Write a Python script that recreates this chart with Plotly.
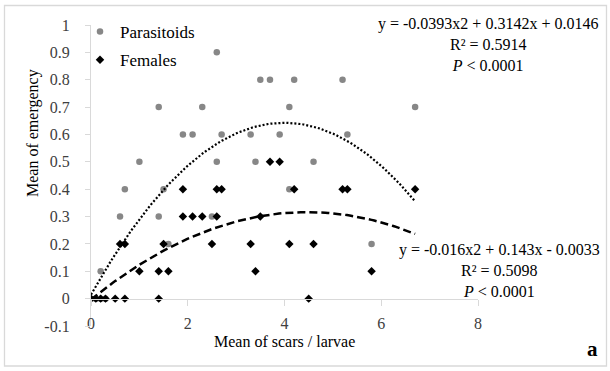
import numpy as np
import plotly.graph_objects as go

# ---- data ----
parasitoid_x = [0, 0.1, 0.2, 0.3, 0.2, 0.6, 0.7, 1.0, 1.4, 1.4, 1.5, 1.6, 1.9, 2.1, 2.3, 2.5, 2.6, 2.6,
                2.7, 3.3, 3.4, 3.5, 3.7, 3.9, 4.1, 4.1, 4.2, 4.6, 5.2, 5.3, 5.8, 6.7]
parasitoid_y = [0, 0, 0, 0, 0.1, 0.3, 0.4, 0.5, 0.7, 0.3, 0.4, 0.2, 0.6, 0.6, 0.7, 0.3, 0.9, 0.5,
                0.6, 0.6, 0.5, 0.8, 0.8, 0.6, 0.7, 0.4, 0.8, 0.5, 0.8, 0.6, 0.2, 0.7]

female_x = [0, 0.1, 0.2, 0.3, 0.5, 0.7, 1.4, 4.5,
            1.0, 1.4, 1.6, 3.4, 5.8,
            0.6, 0.7, 1.5, 2.5, 3.3, 4.1, 4.6,
            1.9, 2.1, 2.3, 2.6, 3.5,
            1.9, 2.6, 2.7, 4.2, 5.2, 5.3, 6.7,
            3.7, 3.9]
female_y = [0, 0, 0, 0, 0, 0, 0, 0,
            0.1, 0.1, 0.1, 0.1, 0.1,
            0.2, 0.2, 0.2, 0.2, 0.2, 0.2, 0.2,
            0.3, 0.3, 0.3, 0.3, 0.3,
            0.4, 0.4, 0.4, 0.4, 0.4, 0.4, 0.4,
            0.5, 0.5]

# polynomial trendline coefficients (a*x^2 + b*x + c) as printed on the chart
parasitoid_coef = [-0.0393, 0.3142, 0.0146]
female_coef = [-0.016, 0.143, -0.0033]
trend_range = [0, 6.7]

x_ticks = [0, 2, 4, 6, 8]
y_ticks = [-0.1, 0, 0.1, 0.2, 0.3, 0.4, 0.5, 0.6, 0.7, 0.8, 0.9, 1]
y_tick_text = ["-0.1", "0", "0.1", "0.2", "0.3", "0.4", "0.5", "0.6", "0.7", "0.8", "0.9", "1"]

# ---- layout geometry (pixels) ----
W, H = 610, 371
ML, MR, MT, MB = 91, 132, 25, 45
PW, PH = W - ML - MR, H - MT - MB
FONT = "Liberation Serif, Times New Roman, serif"


def px(xp):
    return (xp - ML) / PW


def py(yp):
    return (H - MB - yp) / PH


xs = np.linspace(trend_range[0], trend_range[1], 120)

fig = go.Figure()
fig.add_trace(go.Scatter(
    x=parasitoid_x, y=parasitoid_y, mode="markers", name="Parasitoids",
    marker=dict(symbol="circle", size=6.5, color="#878787"),
    legendgroup="p"))
fig.add_trace(go.Scatter(
    x=female_x, y=female_y, mode="markers", name="Females",
    marker=dict(symbol="diamond", size=6.5, color="#000000"),
    legendgroup="f"))
fig.add_trace(go.Scatter(
    x=xs, y=np.polyval(parasitoid_coef, xs), mode="lines", showlegend=False,
    line=dict(color="#000000", width=2.2, dash="2px,2px")))
fig.add_trace(go.Scatter(
    x=xs, y=np.polyval(female_coef, xs), mode="lines", showlegend=False,
    line=dict(color="#000000", width=2.5, dash="8px,4px")))

tick_font = dict(family=FONT, size=16, color="#404040")

fig.update_layout(
    width=W, height=H,
    margin=dict(l=ML, r=MR, t=MT, b=MB, pad=0),
    paper_bgcolor="white", plot_bgcolor="white",
    font=dict(family=FONT, size=16, color="#000000"),
    showlegend=True,
    legend=dict(x=px(80), y=py(14), xanchor="left", yanchor="top",
                bgcolor="rgba(0,0,0,0)", font=dict(family=FONT, size=17, color="#000000"),
                tracegroupgap=3, itemwidth=30),
    xaxis=dict(range=[0, 8], tickvals=x_ticks, showgrid=False, zeroline=False,
               anchor="free", position=py(299),
               showline=True, linecolor="#d9d9d9", linewidth=1.3,
               ticks="outside", ticklen=6, tickcolor="#d9d9d9",
               tickfont=tick_font, ticklabelstandoff=4),
    yaxis=dict(range=[-0.1, 1], tickvals=y_ticks, ticktext=y_tick_text,
               showgrid=False, zeroline=False,
               showline=True, linecolor="#d9d9d9", linewidth=1.3,
               ticks="outside", ticklen=5, tickcolor="#d9d9d9",
               tickfont=tick_font, ticklabelstandoff=12),
)

annotations = [
    dict(text="y = -0.0393x2 + 0.3142x + 0.0146<br>R² = 0.5914<br><i>P</i> &lt; 0.0001",
         x=px(487.5), y=py(44.5)),
    dict(text="y = -0.016x2 + 0.143x - 0.0033<br>R² = 0.5098<br><i>P</i> &lt; 0.0001",
         x=px(499), y=py(270.5)),
    dict(text="Mean of scars / larvae", x=px(284), y=py(342)),
    dict(text="Mean of emergency", x=px(33), y=py(133), textangle=-90),
    dict(text="<b>a</b>", x=px(592.5), y=py(349), font=dict(size=21, family=FONT, color="#000000")),
]
for a in annotations:
    a.setdefault("font", dict(size=16, family=FONT, color="#000000"))
    fig.add_annotation(xref="paper", yref="paper", showarrow=False,
                       xanchor="center", yanchor="middle", align="center", **a)

fig.add_shape(type="rect", xref="paper", yref="paper",
              x0=px(4.5), x1=px(606.5), y0=py(366), y1=py(5.5),
              line=dict(color="#d9d9d9", width=1.3), fillcolor="rgba(0,0,0,0)")

fig.write_html("out.html")
